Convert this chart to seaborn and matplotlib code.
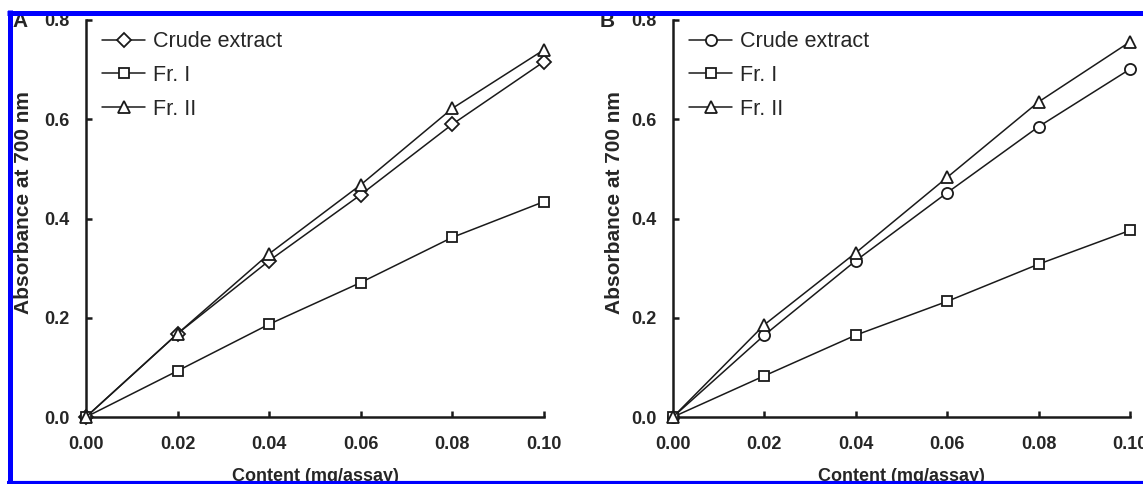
import matplotlib
matplotlib.use("Agg")
import matplotlib.pyplot as plt
from matplotlib.lines import Line2D
import numpy as np
import pandas as pd
import seaborn as sns

# data -------------------------------------------------------------------------
content = [0.00, 0.02, 0.04, 0.06, 0.08, 0.10]

a_crude = [0.0, 0.168, 0.315, 0.448, 0.590, 0.716]
a_fr1 = [0.0, 0.093, 0.187, 0.271, 0.362, 0.434]
a_fr2 = [0.0, 0.168, 0.329, 0.468, 0.622, 0.740]

b_crude = [0.0, 0.165, 0.315, 0.452, 0.585, 0.701]
b_fr1 = [0.0, 0.083, 0.165, 0.233, 0.308, 0.376]
b_fr2 = [0.0, 0.186, 0.331, 0.483, 0.635, 0.756]

series_names = ['Crude extract', 'Fr. I', 'Fr. II']
yticks = [0.0, 0.2, 0.4, 0.6, 0.8]
xticks = [0.00, 0.02, 0.04, 0.06, 0.08, 0.10]

sns.set_style('ticks')
plt.rcParams['font.family'] = ['Liberation Sans', 'DejaVu Sans']

W, H = 1143, 484
fig = plt.figure(figsize=(W / 100, H / 100), dpi=100)


def px_axes(left, top, right, bottom):
    return fig.add_axes([left / W, 1 - bottom / H, (right - left) / W, (bottom - top) / H])


axA = px_axes(86, 20, 544, 417)
axB = px_axes(673, 20, 1130, 417)

panels = [
    (axA, [a_crude, a_fr1, a_fr2], ['D', 's', '^'], 'A', -0.115),
    (axB, [b_crude, b_fr1, b_fr2], ['o', 's', '^'], 'B', -0.108),
]
msizes = {'D': 7.5, 'o': 8, 's': 7.5, '^': 9}

for ax, vals, marks, letter, ylab_x in panels:
    df = pd.DataFrame({'content': content * 3,
                       'absorb': vals[0] + vals[1] + vals[2],
                       'series': np.repeat(series_names, len(content))})
    for name, mk in zip(series_names, marks):
        sub = df[df['series'] == name]
        sns.lineplot(data=sub, x='content', y='absorb', ax=ax, color='#1a1a1a',
                     lw=1.1, marker=mk, ms=msizes[mk], mfc='white', mec='#1a1a1a',
                     mew=1.3, label=name, clip_on=False, zorder=3)

    ax.set_xlim(0, 0.10)
    ax.set_ylim(0, 0.8)
    ax.set_xticks(xticks)
    ax.set_yticks(yticks)
    ax.set_xticklabels(['%.2f' % v for v in xticks], fontsize=13, fontweight='bold')
    ax.set_yticklabels(['%.1f' % v for v in yticks], fontsize=13, fontweight='bold')
    ax.tick_params(direction='in', length=4, width=1.8, color='#1a1a1a')
    ax.tick_params(axis='x', pad=14)
    ax.tick_params(axis='y', pad=12)
    sns.despine(ax=ax)
    for s in ['left', 'bottom']:
        ax.spines[s].set_linewidth(1.8)
        ax.spines[s].set_color('#1a1a1a')

    ax.set_xlabel('Content (mg/assay)', fontsize=13, fontweight='bold')
    ax.xaxis.set_label_coords(0.5, -0.128)
    ax.set_ylabel('Absorbance at 700 nm', fontsize=15, fontweight='bold')
    ax.yaxis.set_label_coords(ylab_x, 0.54)

    leg = ax.legend(loc='upper left', bbox_to_anchor=(0.035, 0.972), frameon=False,
                    fontsize=15.5, handlelength=2.0, handletextpad=0.35,
                    labelspacing=0.6, borderpad=0, borderaxespad=0)

    ax.text(-0.145 if letter == 'A' else -0.143, 0.995, letter, transform=ax.transAxes,
            fontsize=15, fontweight='bold', ha='center', va='center')

# blue frame round the figure
blue = (0, 0, 1)
fig.add_artist(Line2D([9.5 / W, 9.5 / W], [0, 1 - 10 / H], color=blue, lw=3.6,
                      transform=fig.transFigure, solid_capstyle='butt'))
fig.add_artist(Line2D([7 / W, 1], [1 - 12.5 / H, 1 - 12.5 / H], color=blue, lw=3.6,
                      transform=fig.transFigure, solid_capstyle='butt'))
fig.add_artist(Line2D([7 / W, 1], [1.5 / H, 1.5 / H], color=blue, lw=3.0,
                      transform=fig.transFigure, solid_capstyle='butt'))

fig.savefig('out.png', dpi=100)
